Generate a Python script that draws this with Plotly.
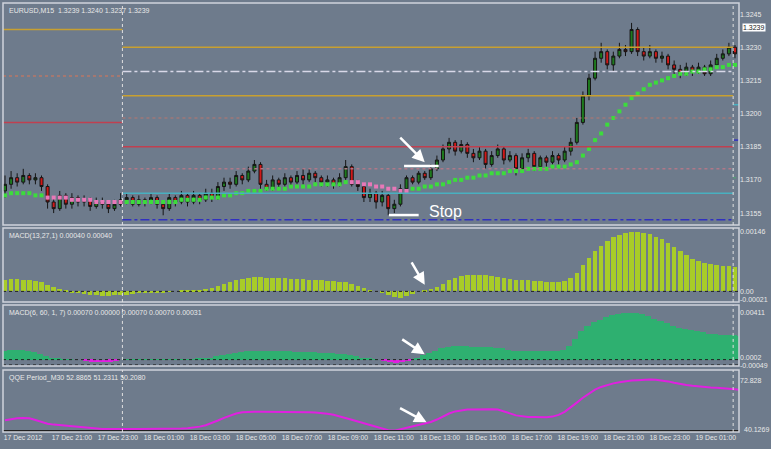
import plotly.graph_objects as go
from plotly.subplots import make_subplots

# EURUSD M15 candles, one entry per bar (left to right)
closes = [1.3168, 1.3171, 1.3169, 1.3172, 1.3170, 1.3171, 1.3167, 1.3160, 1.3157, 1.3163,
          1.3159, 1.3162, 1.3160, 1.3161, 1.3158, 1.3160, 1.3159, 1.3157, 1.3159, 1.3161,
          1.3162, 1.3159, 1.3161, 1.3160, 1.3162, 1.3159, 1.3157, 1.3162, 1.3160, 1.3163,
          1.3160, 1.3163, 1.3161, 1.3164, 1.3162, 1.3167, 1.3169, 1.3168, 1.3172, 1.3170,
          1.3174, 1.3177, 1.3168, 1.3166, 1.3170, 1.3168, 1.3171, 1.3169, 1.3172, 1.3170,
          1.3173, 1.3171, 1.3169, 1.3170, 1.3168, 1.3171, 1.3176, 1.3168, 1.3167, 1.3162,
          1.3164, 1.3160, 1.3163, 1.3157, 1.3159, 1.3166, 1.3171, 1.3169, 1.3173, 1.3171,
          1.3175, 1.3179, 1.3184, 1.3187, 1.3183, 1.3186, 1.3182, 1.3180, 1.3183, 1.3177,
          1.3181, 1.3184, 1.3179, 1.3181, 1.3175, 1.3180, 1.3182, 1.3176, 1.3180, 1.3178,
          1.3181, 1.3179, 1.3183, 1.3187, 1.3196, 1.3208, 1.3216, 1.3225, 1.3228, 1.3222,
          1.3226, 1.3229, 1.3228, 1.3238, 1.3228, 1.3226, 1.3228, 1.3225, 1.3226, 1.3222,
          1.3220, 1.3218, 1.3221, 1.3219, 1.3221, 1.3218, 1.3222, 1.3225, 1.3227, 1.3230,
          1.3227, 1.3226]
opens = [1.3165] + closes[:-1]
highs = [1.3172, 1.3174, 1.3173, 1.3175, 1.3173, 1.3173, 1.3172, 1.3168, 1.3162, 1.3165,
         1.3164, 1.3164, 1.3163, 1.3163, 1.3162, 1.3162, 1.3162, 1.3160, 1.3161, 1.3164,
         1.3164, 1.3163, 1.3163, 1.3162, 1.3164, 1.3163, 1.3160, 1.3164, 1.3163, 1.3165,
         1.3164, 1.3165, 1.3164, 1.3166, 1.3166, 1.3169, 1.3171, 1.3171, 1.3174, 1.3173,
         1.3176, 1.3179, 1.3178, 1.3170, 1.3172, 1.3171, 1.3173, 1.3172, 1.3174, 1.3175,
         1.3175, 1.3174, 1.3172, 1.3172, 1.3171, 1.3173, 1.3179, 1.3177, 1.3170, 1.3168,
         1.3166, 1.3165, 1.3165, 1.3164, 1.3161, 1.3168, 1.3172, 1.3172, 1.3174, 1.3174,
         1.3177, 1.3181, 1.3186, 1.3189, 1.3188, 1.3188, 1.3187, 1.3184, 1.3185, 1.3184,
         1.3183, 1.3186, 1.3185, 1.3183, 1.3182, 1.3182, 1.3184, 1.3183, 1.3181, 1.3181,
         1.3183, 1.3182, 1.3185, 1.3189, 1.3198, 1.3210, 1.3218, 1.3228, 1.3232, 1.3229,
         1.3228, 1.3232, 1.3231, 1.3241, 1.3239, 1.3230, 1.3231, 1.3229, 1.3228, 1.3227,
         1.3224, 1.3222, 1.3223, 1.3222, 1.3223, 1.3222, 1.3224, 1.3227, 1.3229, 1.3232,
         1.3231, 1.3229]
lows = [1.3162, 1.3166, 1.3167, 1.3168, 1.3168, 1.3168, 1.3165, 1.3157, 1.3155, 1.3156,
        1.3157, 1.3157, 1.3158, 1.3158, 1.3156, 1.3157, 1.3157, 1.3155, 1.3156, 1.3158,
        1.3159, 1.3158, 1.3158, 1.3158, 1.3159, 1.3157, 1.3154, 1.3156, 1.3158, 1.3159,
        1.3158, 1.3159, 1.3159, 1.3160, 1.3160, 1.3161, 1.3165, 1.3166, 1.3167, 1.3168,
        1.3169, 1.3173, 1.3166, 1.3165, 1.3165, 1.3166, 1.3167, 1.3167, 1.3168, 1.3168,
        1.3169, 1.3169, 1.3167, 1.3167, 1.3166, 1.3167, 1.3170, 1.3167, 1.3165, 1.3160,
        1.3160, 1.3157, 1.3158, 1.3154, 1.3155, 1.3158, 1.3165, 1.3168, 1.3168, 1.3170,
        1.3170, 1.3174, 1.3178, 1.3182, 1.3181, 1.3182, 1.3180, 1.3178, 1.3179, 1.3175,
        1.3176, 1.3180, 1.3177, 1.3178, 1.3172, 1.3174, 1.3178, 1.3174, 1.3175, 1.3176,
        1.3177, 1.3177, 1.3178, 1.3181, 1.3186, 1.3195, 1.3206, 1.3215, 1.3223, 1.3220,
        1.3219, 1.3225, 1.3226, 1.3227, 1.3226, 1.3224, 1.3225, 1.3223, 1.3223, 1.3220,
        1.3218, 1.3216, 1.3217, 1.3217, 1.3218, 1.3217, 1.3217, 1.3221, 1.3224, 1.3226,
        1.3225, 1.3224]
# dotted moving average line
ma_line = [1.3163, 1.3164, 1.3164, 1.3164, 1.3164, 1.3163, 1.3163, 1.3162, 1.3162, 1.3162,
           1.3162, 1.3161, 1.3161, 1.3161, 1.3161, 1.3160, 1.3160, 1.3160, 1.3160, 1.3160,
           1.3160, 1.3160, 1.3160, 1.3160, 1.3160, 1.3160, 1.3160, 1.3160, 1.3160, 1.3161,
           1.3161, 1.3161, 1.3161, 1.3162, 1.3162, 1.3162, 1.3163, 1.3163, 1.3164, 1.3164,
           1.3165, 1.3165, 1.3165, 1.3166, 1.3166, 1.3166, 1.3166, 1.3167, 1.3167, 1.3167,
           1.3167, 1.3168, 1.3168, 1.3168, 1.3168, 1.3168, 1.3169, 1.3169, 1.3169, 1.3168,
           1.3168, 1.3167, 1.3167, 1.3166, 1.3166, 1.3165, 1.3165, 1.3166, 1.3166, 1.3167,
           1.3167, 1.3168, 1.3168, 1.3169, 1.3170, 1.3170, 1.3171, 1.3171, 1.3172, 1.3172,
           1.3173, 1.3173, 1.3173, 1.3174, 1.3174, 1.3174, 1.3175, 1.3175, 1.3175, 1.3175,
           1.3176, 1.3176, 1.3176, 1.3177, 1.3178, 1.3181, 1.3184, 1.3188, 1.3191, 1.3195,
           1.3198, 1.3201, 1.3204, 1.3207, 1.3209, 1.3211, 1.3213, 1.3214, 1.3215, 1.3216,
           1.3217, 1.3218, 1.3218, 1.3219, 1.3219, 1.3220, 1.3220, 1.3221, 1.3221, 1.3222,
           1.3222, 1.3223]
ma_down_spans = [(7, 19), (57, 66)]   # bars where the MA is drawn pink

macd1 = [0.00029, 0.00030, 0.00030, 0.00029, 0.00028, 0.00026, 0.00022, 0.00016, 0.00010, 0.00005,
         0.00001, -0.00003, -0.00005, -0.00007, -0.00009, -0.00010, -0.00011, -0.00011, -0.00010, -0.00009,
         -0.00008, -0.00006, -0.00005, -0.00004, -0.00003, -0.00002, -0.00002, -0.00001, 0.00000, 0.00001,
         0.00002, 0.00003, 0.00004, 0.00006, 0.00009, 0.00013, 0.00018, 0.00023, 0.00027, 0.00031,
         0.00033, 0.00034, 0.00034, 0.00033, 0.00033, 0.00032, 0.00032, 0.00031, 0.00030, 0.00030,
         0.00029, 0.00028, 0.00027, 0.00026, 0.00025, 0.00024, 0.00022, 0.00018, 0.00013, 0.00008,
         0.00003, 0.00000, -0.00003, -0.00008, -0.00013, -0.00016, -0.00012, -0.00006, 0.00000, 0.00003,
         0.00006, 0.00011, 0.00019, 0.00027, 0.00033, 0.00037, 0.00040, 0.00041, 0.00040, 0.00039,
         0.00037, 0.00035, 0.00033, 0.00031, 0.00029, 0.00028, 0.00027, 0.00026, 0.00025, 0.00024,
         0.00023, 0.00023, 0.00026, 0.00032, 0.00046, 0.00064, 0.00082, 0.00098, 0.00112, 0.00124,
         0.00132, 0.00138, 0.00142, 0.00145, 0.00146, 0.00144, 0.00140, 0.00134, 0.00127, 0.00118,
         0.00108, 0.00098, 0.00088, 0.00080, 0.00074, 0.00069, 0.00066, 0.00064, 0.00063, 0.00062,
         0.00060, 0.00058]

macd2 = [0.0008, 0.0009, 0.0009, 0.0009, 0.0008, 0.0007, 0.0005, 0.0003, 0.0002, 0.0001,
         0.00005, 0.00003, 0.0, -0.0001, -0.00015, -0.0002, -0.0002, -0.00015, -0.0001, 0.0,
         0.00002, 0.00003, 0.00004, 0.00004, 0.00005, 0.00005, 0.00005, 0.00005, 0.00005, 0.00005,
         0.00006, 0.00007, 0.0001, 0.00015, 0.0002, 0.0003, 0.0004, 0.0005, 0.0006, 0.0007,
         0.0008, 0.0008, 0.0008, 0.0008, 0.0008, 0.0008, 0.0008, 0.0008, 0.0007, 0.0007,
         0.0007, 0.0007, 0.0006, 0.0006, 0.0006, 0.0005, 0.0005, 0.0004, 0.0003, 0.0002,
         0.0001, 0.00005, -0.0001, -0.0002, -0.00025, -0.0002, -0.0001, 0.00005, 0.0002, 0.0004,
         0.0006, 0.0008, 0.0010, 0.0011, 0.0012, 0.0012, 0.0012, 0.0011, 0.0011, 0.0011,
         0.0011, 0.0010, 0.0010, 0.0009, 0.0008, 0.0008, 0.0008, 0.0008, 0.0008, 0.0008,
         0.0008, 0.0008, 0.0009, 0.0012, 0.0018, 0.0025, 0.0030, 0.0033, 0.0035, 0.0037,
         0.0039, 0.0040, 0.0041, 0.0041, 0.0041, 0.0040, 0.0038, 0.0036, 0.0034, 0.0032,
         0.0030, 0.0028, 0.0027, 0.0026, 0.0025, 0.0024, 0.0023, 0.0023, 0.0022, 0.0022,
         0.0022, 0.0021]

qqe = [47.0, 47.8, 48.3, 48.5, 48.3, 47.2, 45.8, 44.8, 44.2, 43.8,
       43.4, 43.0, 42.6, 42.2, 41.9, 41.6, 41.4, 41.3, 41.2, 41.2,
       41.2, 41.3, 41.4, 41.4, 41.5, 41.4, 41.3, 41.3, 41.4, 41.6,
       41.9, 42.3, 42.9, 43.8, 45.2, 46.9, 48.6, 50.1, 51.4, 52.2,
       52.5, 52.6, 52.6, 52.6, 52.6, 52.6, 52.5, 52.5, 52.5, 52.4,
       52.3, 52.1, 51.8, 51.3, 50.6, 49.7, 48.6, 47.4, 46.2, 45.0,
       43.8, 42.6, 41.5, 40.6, 40.3, 41.2, 42.3, 43.2, 44.0, 44.8,
       45.9, 47.5, 49.6, 51.4, 52.8, 53.6, 54.0, 54.1, 54.2, 54.2,
       54.2, 54.0, 53.0, 51.5, 50.2, 49.5, 49.2, 49.1, 49.0, 49.0,
       49.4, 50.5, 52.5, 55.3, 58.5, 61.7, 64.5, 66.9, 68.7, 70.0,
       71.0, 71.8, 72.4, 72.8, 73.1, 73.4, 73.5, 73.4, 73.0, 72.3,
       71.4, 70.6, 70.0, 69.5, 69.0, 68.6, 68.3, 68.2, 68.0, 67.6,
       67.2, 66.8]
qqe_floor = 40.1269

time_labels = ["17 Dec 2012", "17 Dec 21:00", "17 Dec 23:00", "18 Dec 01:00", "18 Dec 03:00",
               "18 Dec 05:00", "18 Dec 07:00", "18 Dec 09:00", "18 Dec 11:00", "18 Dec 13:00",
               "18 Dec 15:00", "18 Dec 17:00", "18 Dec 19:00", "18 Dec 21:00", "18 Dec 23:00",
               "19 Dec 01:00"]

# horizontal levels: (value, colour, dash, span)  span: 'left', 'mid', 'right'
levels = [(1.3238, "#c8a030", "solid", "left"), (1.3217, "#b87868", "dot", "left"),
          (1.3196, "#c04050", "solid", "left"),
          (1.3230, "#c8a030", "solid", "mid"), (1.3219, "#d8d8e8", "dashdot", "mid"),
          (1.3208, "#c8a030", "solid", "mid"), (1.3198, "#a07878", "dot", "mid"),
          (1.3185, "#c04050", "solid", "mid"), (1.3175, "#b07888", "dot", "mid"),
          (1.3164, "#48b0c0", "solid", "mid"), (1.3152, "#3030c0", "dashdot", "mid"),
          (1.3204, "#48b0c0", "solid", "right"), (1.3188, "#3030c0", "dash", "right"),
          (1.3171, "#5a9a7a", "dot", "right")]

n = len(closes)
idx = list(range(n))
BG = "#6e7b8c"
TXT = "#e8e8e8"
sep_a, sep_b = 19.3, 119.7
x_lo, x_hi = -0.33, 120.66

fig = make_subplots(rows=4, cols=1, shared_xaxes=True)

fig.add_trace(go.Candlestick(x=idx, open=opens, high=highs, low=lows, close=closes,
                             increasing=dict(fillcolor="#1e7a1e", line=dict(color="#151515", width=1)),
                             decreasing=dict(fillcolor="#d01818", line=dict(color="#151515", width=1)),
                             whiskerwidth=0, showlegend=False), row=1, col=1)

ma_cols = []
for i in idx:
    pink = any(a <= i <= b for a, b in ma_down_spans)
    ma_cols.append("#e878b8" if pink else "#3cdc3c")
fig.add_trace(go.Scatter(x=idx, y=ma_line, mode="markers",
                         marker=dict(color=ma_cols, size=4, symbol="square"),
                         showlegend=False), row=1, col=1)

fig.add_trace(go.Bar(x=idx, y=macd1, marker=dict(color="#a8cc28", line=dict(width=0)),
                     width=0.75, showlegend=False), row=2, col=1)
fig.add_trace(go.Bar(x=idx, y=[v if v >= 0 else 0 for v in macd2],
                     marker=dict(color="#2eb070", line=dict(width=0)), width=1.0,
                     showlegend=False), row=3, col=1)
fig.add_trace(go.Bar(x=idx, y=[v if v < 0 else 0 for v in macd2],
                     marker=dict(color="#e020e0", line=dict(width=0)), width=1.0,
                     showlegend=False), row=3, col=1)
fig.add_trace(go.Scatter(x=idx, y=qqe, mode="lines", line=dict(color="#e020e0", width=2),
                         showlegend=False), row=4, col=1)
fig.add_trace(go.Scatter(x=[x_lo, x_hi], y=[qqe_floor, qqe_floor], mode="lines",
                         line=dict(color="#202020", width=2), showlegend=False), row=4, col=1)

for v, c, d, span in levels:
    if span == "left":
        x0, x1 = x_lo, sep_a
    elif span == "mid":
        x0, x1 = sep_a, sep_b
    else:
        x0, x1 = sep_b, x_hi
    fig.add_shape(type="line", xref="x", yref="y", x0=x0, x1=x1, y0=v, y1=v,
                  line=dict(color=c, width=1.5, dash=d))

# zero lines of the MACD panels
fig.add_shape(type="line", xref="x", yref="y2", x0=x_lo, x1=x_hi, y0=0, y1=0,
              line=dict(color="#202020", width=1, dash="dot"))
fig.add_shape(type="line", xref="x", yref="y3", x0=x_lo, x1=x_hi, y0=0.00002, y1=0.00002,
              line=dict(color="#202020", width=1, dash="dot"))
fig.add_shape(type="line", xref="x", yref="y3", x0=x_lo, x1=x_hi, y0=-0.00044, y1=-0.00044,
              line=dict(color="#202020", width=1, dash="dot"))

domains = [(0.4825, 1.0), (0.303, 0.4755), (0.154, 0.296), (0.0, 0.1445)]
ranges = [(1.31496, 1.32500), (-0.00026, 0.00155), (-0.00053, 0.00479), (39.4, 79.7)]
ticks = [([1.3155, 1.3170, 1.3185, 1.3200, 1.3215, 1.3230, 1.3245],
          ["1.3155", "1.3170", "1.3185", "1.3200", "1.3215", "1.3230", "1.3245"]),
         ([-0.00021, 0.0, 0.00146], ["-0.00021", "0.00", "0.00146"]),
         ([-0.00049, 0.0002, 0.00411], ["-0.00049", "0.0002", "0.00411"]),
         ([72.828], ["72.828"])]
for k in range(4):
    yname = "yaxis" if k == 0 else f"yaxis{k + 1}"
    fig.layout[yname].update(domain=list(domains[k]), range=list(ranges[k]), side="right",
                             showgrid=False, zeroline=False, tickvals=ticks[k][0],
                             ticktext=ticks[k][1], tickfont=dict(size=7, color=TXT),
                             ticks="", fixedrange=True)
    xname = "xaxis" if k == 0 else f"xaxis{k + 1}"
    fig.layout[xname].update(range=[x_lo, x_hi], showgrid=False, zeroline=False,
                             showticklabels=(k == 3), rangeslider=dict(visible=False))
    # panel frame and day separators
    fig.add_shape(type="rect", xref="paper", yref="paper", x0=0, x1=1,
                  y0=domains[k][0], y1=domains[k][1], line=dict(color="#d0d4dc", width=1.5))
    for sx in (sep_a, sep_b):
        fig.add_shape(type="line", xref="x", yref="paper", x0=sx, x1=sx,
                      y0=domains[k][0], y1=domains[k][1],
                      line=dict(color="#e0e0e0", width=1, dash="dot"))

tick_pos = [2.95] + [11.0 + 7.56 * j for j in range(len(time_labels) - 1)]
fig.layout.xaxis4.update(tickvals=tick_pos, ticktext=time_labels, tickangle=0,
                         tickfont=dict(size=6.8, color=TXT), ticks="")

titles = ["EURUSD,M15  1.3239 1.3240 1.3237 1.3239",
          "MACD(13,27,1) 0.00040 0.00040",
          "MACD(6, 60, 1, 7) 0.00070 0.00000 0.00070 0.00070 0.00031",
          "QQE Period_M30 52.8865 51.2311 50.2080"]
for k, t in enumerate(titles):
    fig.add_annotation(text=t, xref="paper", yref="paper", x=0.005, y=domains[k][1] - 0.004,
                       xanchor="left", yanchor="top", showarrow=False,
                       font=dict(size=7, color=TXT))

# current price and QQE floor markers
fig.add_annotation(text="1.3239", xref="paper", yref="y", x=1.004, y=closes[-1] + 0.0013,
                   xanchor="left", showarrow=False, bgcolor="white", borderpad=0,
                   font=dict(size=7, color="#202020"))
fig.add_annotation(text="40.1269", xref="paper", yref="y4", x=1.004, y=qqe_floor + 1.2,
                   xanchor="left", showarrow=False, font=dict(size=7, color=TXT))

# hand-drawn marks
arrow = dict(showarrow=True, arrowhead=2, arrowsize=1, arrowwidth=2.5, arrowcolor="white", text="")
fig.add_annotation(x=69, y=1.3178, xref="x", yref="y", ax=-26, ay=-26, **arrow)
fig.add_shape(type="line", xref="x", yref="y", x0=65.6, x1=71.3, y0=1.31763, y1=1.31763,
              line=dict(color="white", width=2.5))
fig.add_shape(type="line", xref="x", yref="y", x0=63.1, x1=68, y0=1.31541, y1=1.31541,
              line=dict(color="white", width=2.5))
fig.add_annotation(text="Stop", x=69.3, y=1.31555, xref="x", yref="y", xanchor="left",
                   showarrow=False, font=dict(size=16, color="white", family="Liberation Sans"))
fig.add_annotation(x=69, y=0.00016, xref="x", yref="y2", ax=-14, ay=-24, **arrow)
fig.add_annotation(x=69, y=0.00048, xref="x", yref="y3", ax=-24, ay=-16, **arrow)
fig.add_annotation(x=69.3, y=45.7, xref="x", yref="y4", ax=-28, ay=-15, **arrow)

fig.update_layout(width=771, height=449, margin=dict(l=3, r=30, t=3, b=17),
                  paper_bgcolor=BG, plot_bgcolor=BG, bargap=0,
                  font=dict(family="Liberation Sans", color=TXT), showlegend=False)

fig.write_html("out.html", config={"displayModeBar": False},
               post_script="document.body.style.margin='0';")
